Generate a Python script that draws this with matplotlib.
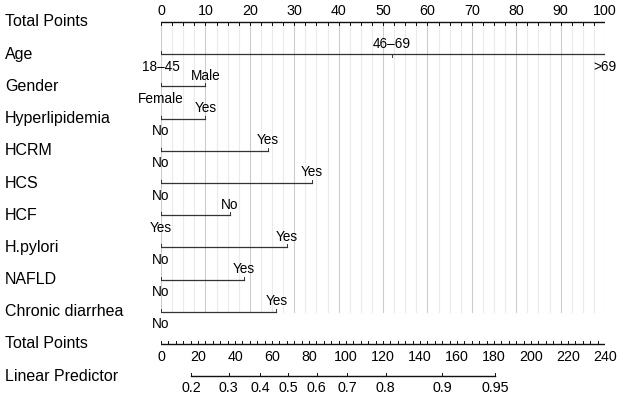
import matplotlib
matplotlib.use("Agg")
import matplotlib.pyplot as plt
import numpy as np

plt.rcParams['font.family'] = ['Liberation Sans', 'DejaVu Sans']

# ---- data ----
points_ticks = [0, 10, 20, 30, 40, 50, 60, 70, 80, 90, 100]
row_names = ["Age", "Gender", "Hyperlipidemia", "HCRM", "HCS", "HCF",
             "H.pylori", "NAFLD", "Chronic diarrhea"]
age_levels = ["18\u201345", "46\u201369", ">69"]
age_points = [0, 52, 100]
gender_levels = ["Female", "Male"]
gender_points = [0, 10]
hyperlip_levels = ["No", "Yes"]
hyperlip_points = [0, 10]
hcrm_levels = ["No", "Yes"]
hcrm_points = [0, 24]
hcs_levels = ["No", "Yes"]
hcs_points = [0, 34]
hcf_levels = ["Yes", "No"]
hcf_points = [0, 15.5]
hpylori_levels = ["No", "Yes"]
hpylori_points = [0, 28.3]
nafld_levels = ["No", "Yes"]
nafld_points = [0, 18.6]
diarrhea_levels = ["No", "Yes"]
diarrhea_points = [0, 26]
total_ticks = [0, 20, 40, 60, 80, 100, 120, 140, 160, 180, 200, 220, 240]
lp_labels = ["0.2", "0.3", "0.4", "0.5", "0.6", "0.7", "0.8", "0.9", "0.95"]
lp_total_points = [16.2, 36.6, 53.5, 68.6, 84.2, 100.7, 121.5, 152.1, 180.5]

rows = [(age_levels, age_points), (gender_levels, gender_points),
        (hyperlip_levels, hyperlip_points), (hcrm_levels, hcrm_points),
        (hcs_levels, hcs_points), (hcf_levels, hcf_points),
        (hpylori_levels, hpylori_points), (nafld_levels, nafld_points),
        (diarrhea_levels, diarrhea_points)]

# ---- layout ----
W, H = 623, 399
fig = plt.figure(figsize=(W / 100, H / 100), dpi=100)
ax = fig.add_axes([161 / W, 0, 444 / W, 1])
ax.set_xlim(0, 100)
ax.set_ylim(H, 0)
ax.axis('off')

y0, dy = 22.0, 32.2
row_y = [y0 + dy * i for i in range(12)]
tot_max = total_ticks[-1]
def tp2x(v):
    return np.asarray(v) * 100.0 / tot_max

line_col = "#333333"
axis_col = "#111111"
lab_fs = 11.5
tick_fs = 10.3
lev_fs = 9.8
tl = 3.0

# grid
grid_bottom = row_y[9]
for g in np.arange(0, 100.01, 2.5):
    major = abs(g / 10 - round(g / 10)) < 1e-6
    ax.plot([g, g], [row_y[0], grid_bottom],
            color="#cccccc" if major else "#ebebeb", lw=0.8, zorder=0)

# left labels
names = ["Total Points"] + row_names + ["Total Points", "Linear Predictor"]
for name, y in zip(names, row_y):
    fig.text(5 / W, 1 - y / H, name, fontsize=lab_fs, ha='left', va='center')

# top points axis
y = row_y[0]
ax.plot([0, 100], [y, y], color=axis_col, lw=1.0)
for t in np.arange(0, 100.01, 2.5):
    ax.plot([t, t], [y, y + tl], color=axis_col, lw=0.7)
for t in points_ticks:
    ax.text(t, y - 11, str(t), fontsize=tick_fs, ha='center', va='center')

# variable rows
for i, (levels, pts) in enumerate(rows):
    y = row_y[i + 1]
    ax.plot([min(pts), max(pts)], [y, y], color=line_col, lw=0.9)
    n = len(levels)
    for j, (lev, p) in enumerate(zip(levels, pts)):
        above = (j % 2 == 1)
        inner = 0 < j < n - 1
        ax.plot([p, p], [y, y + tl] if inner else [y, y - tl], color=line_col, lw=0.7)
        ax.text(p, y - 10.5 if above else y + 12.5, lev, fontsize=lev_fs,
                ha='center', va='center')

# bottom total points axis
y = row_y[10]
ax.plot([0, 100], [y, y], color=axis_col, lw=1.0)
for t in np.arange(0, tot_max + 0.01, 4):
    ax.plot([tp2x(t), tp2x(t)], [y, y - tl], color=axis_col, lw=0.7)
for t in total_ticks:
    ax.text(tp2x(t), y + 13, str(t), fontsize=tick_fs, ha='center', va='center')

# linear predictor axis
y = row_y[11]
lx = tp2x(lp_total_points)
ax.plot([lx[0], lx[-1]], [y, y], color=axis_col, lw=1.0)
for x, lab in zip(lx, lp_labels):
    ax.plot([x, x], [y, y - tl], color=axis_col, lw=0.7)
    ax.text(x, y + 12, lab, fontsize=tick_fs, ha='center', va='center')

fig.savefig("out.png", dpi=100)
